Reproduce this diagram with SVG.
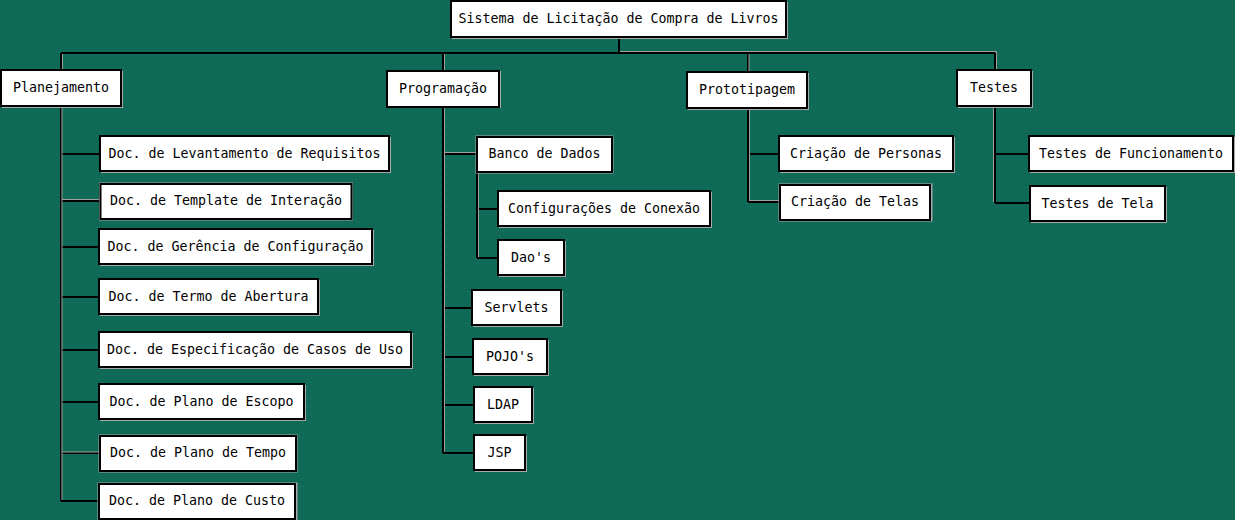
<svg xmlns="http://www.w3.org/2000/svg" width="1235" height="520" viewBox="0 0 1235 520">
<defs>
<pattern id="tex" width="8" height="8" patternUnits="userSpaceOnUse">
<rect width="8" height="8" fill="#0f6a57"/>
<rect x="1" y="5" width="1" height="1" fill="#0a5343" opacity="0.7"/>
<rect x="5" y="1" width="1" height="1" fill="#0a5343" opacity="0.7"/>
<rect x="3" y="3" width="1" height="1" fill="#228672" opacity="0.6"/>
<rect x="6" y="6" width="1" height="1" fill="#228672" opacity="0.6"/>
<rect x="2" y="0" width="1" height="2" fill="#0b5c4b" opacity="0.5"/>
<rect x="6" y="3" width="1" height="2" fill="#0b5c4b" opacity="0.5"/>
</pattern>
<style>
.box{fill:#ffffff;stroke:#000000;stroke-width:2}
.sh{fill:#a8a8a8}
.t{font-family:"DejaVu Sans Mono","Liberation Mono",monospace;font-size:13.3px;fill:#000000;text-anchor:middle}
.c{stroke:#000000;stroke-width:2;fill:none}
.h{stroke:#a0a0a0;stroke-width:1;fill:none}
</style>
</defs>
<rect width="1235" height="520" fill="url(#tex)"/>

<g id="connectors">
<path class="c" d="M619 37 V53 M61 53 H995 M61 53 V70 M443 53 V71 M748 53 V72 M995 53 V70"/>
<path class="h" d="M620 51.5 H996.5 V69 M62.5 54 V69 M444.5 54 V70 M749 54 V71"/>
<path class="c" d="M61 106 V501 M61 154 H100 M61 201 H100 M61 247 H99 M61 297 H99 M61 350 H99 M61 402 H99 M61 453 H99 M61 501 H99"/>
<path class="h" d="M62 199.5 H99 M62 452 H99 M62 107 V500"/>
<path class="c" d="M443 107 V453 M443 154 H476 M477 172 V258 M477 209 H498 M477 258 H498 M443 308 H472 M443 357 H473 M443 405 H474 M443 453 H474"/>
<path class="h" d="M444.5 152.5 H476 M478.5 173 V257 M444.5 108 V452"/>
<path class="c" d="M748 108 V202 M748 154 H779 M748 202 H779"/>
<path class="h" d="M749.5 109 V201 M749 200.5 H779"/>
<path class="c" d="M995 107 V203 M995 154 H1029 M995 203 H1030"/>
<path class="h" d="M993.5 108 V202"/>
</g>

<g id="root">
<rect class="sh" x="452" y="2" width="336" height="37"/>
<rect class="box" x="451" y="1" width="335" height="36"/>
<text class="t" x="618.5" y="23">Sistema de Licitação de Compra de Livros</text>
</g>

<g id="planejamento">
<rect class="sh" x="2" y="71" width="121" height="37"/>
<rect class="box" x="1" y="70" width="120" height="36"/>
<text class="t" x="61" y="92">Planejamento</text>
</g>
<g id="programacao">
<rect class="sh" x="388" y="71" width="113" height="37"/>
<rect class="box" x="387" y="71" width="112" height="36"/>
<text class="t" x="443" y="93">Programação</text>
</g>
<g id="prototipagem">
<rect class="sh" x="688" y="73" width="121" height="37"/>
<rect class="box" x="687" y="72" width="120" height="36"/>
<text class="t" x="747" y="94">Prototipagem</text>
</g>
<g id="testes">
<rect class="sh" x="958" y="71" width="75" height="37"/>
<rect class="box" x="957" y="70" width="74" height="36"/>
<text class="t" x="994" y="92">Testes</text>
</g>

<g id="doc-levantamento">
<rect class="sh" x="101" y="137" width="290" height="36"/>
<rect class="box" x="100" y="136" width="289" height="35"/>
<text class="t" x="244.5" y="158">Doc. de Levantamento de Requisitos</text>
</g>
<g id="doc-template">
<rect x="99" y="182.5" width="254" height="38" fill="#a8a8a8"/>
<rect class="box" x="100.5" y="184" width="251" height="35"/>
<text class="t" x="226" y="205">Doc. de Template de Interação</text>
</g>
<g id="doc-gerencia">
<rect class="sh" x="100" y="230" width="274" height="36"/>
<rect class="box" x="99" y="229" width="273" height="35"/>
<text class="t" x="235.5" y="251">Doc. de Gerência de Configuração</text>
</g>
<g id="doc-termo">
<rect class="sh" x="100" y="280" width="220" height="36"/>
<rect class="box" x="99" y="279" width="219" height="35"/>
<text class="t" x="208.5" y="301">Doc. de Termo de Abertura</text>
</g>
<g id="doc-especificacao">
<rect class="sh" x="100" y="333" width="313" height="36"/>
<rect class="box" x="99" y="332" width="312" height="35"/>
<text class="t" x="255" y="354">Doc. de Especificação de Casos de Uso</text>
</g>
<g id="doc-escopo">
<rect class="sh" x="100" y="385" width="206" height="36"/>
<rect class="box" x="99" y="384" width="205" height="35"/>
<text class="t" x="201.5" y="406">Doc. de Plano de Escopo</text>
</g>
<g id="doc-tempo">
<rect x="98.5" y="434.5" width="199" height="38" fill="#a8a8a8"/>
<rect class="box" x="100" y="436" width="196" height="35"/>
<text class="t" x="198" y="457">Doc. de Plano de Tempo</text>
</g>
<g id="doc-custo">
<rect x="97.5" y="482.5" width="200" height="38" fill="#a8a8a8"/>
<rect class="box" x="99" y="484" width="196" height="35"/>
<text class="t" x="197" y="505">Doc. de Plano de Custo</text>
</g>

<g id="banco-de-dados">
<rect x="475.5" y="135.5" width="138" height="38" fill="#a8a8a8"/>
<rect class="box" x="477" y="137" width="135" height="35"/>
<text class="t" x="544.5" y="158">Banco de Dados</text>
</g>
<g id="configuracoes-conexao">
<rect class="sh" x="499" y="192" width="213" height="36"/>
<rect class="box" x="498" y="191" width="212" height="35"/>
<text class="t" x="604" y="213">Configurações de Conexão</text>
</g>
<g id="daos">
<rect class="sh" x="499" y="241" width="67" height="36"/>
<rect class="box" x="498" y="240" width="66" height="35"/>
<text class="t" x="531" y="262">Dao's</text>
</g>
<g id="servlets">
<rect class="sh" x="473" y="291" width="90" height="36"/>
<rect class="box" x="472" y="290" width="89" height="35"/>
<text class="t" x="516.5" y="312">Servlets</text>
</g>
<g id="pojos">
<rect class="sh" x="474" y="340" width="75" height="36"/>
<rect class="box" x="473" y="339" width="74" height="35"/>
<text class="t" x="510" y="361">POJO's</text>
</g>
<g id="ldap">
<rect class="sh" x="475" y="388" width="59" height="36"/>
<rect class="box" x="474" y="387" width="58" height="35"/>
<text class="t" x="503" y="409">LDAP</text>
</g>
<g id="jsp">
<rect class="sh" x="475" y="436" width="52" height="36"/>
<rect class="box" x="474" y="435" width="51" height="35"/>
<text class="t" x="499.5" y="457">JSP</text>
</g>

<g id="criacao-personas">
<rect class="sh" x="780" y="137" width="175" height="36"/>
<rect class="box" x="779" y="136" width="174" height="35"/>
<text class="t" x="866" y="158">Criação de Personas</text>
</g>
<g id="criacao-telas">
<rect x="778.5" y="183.5" width="154" height="38" fill="#a8a8a8"/>
<rect class="box" x="780" y="185" width="150" height="35"/>
<text class="t" x="855" y="206">Criação de Telas</text>
</g>

<g id="testes-funcionamento">
<rect class="sh" x="1030" y="137" width="205" height="36"/>
<rect class="box" x="1029" y="136" width="204" height="35"/>
<text class="t" x="1131" y="158">Testes de Funcionamento</text>
</g>
<g id="testes-tela">
<rect class="sh" x="1031" y="187" width="136" height="36"/>
<rect class="box" x="1030" y="186" width="135" height="35"/>
<text class="t" x="1097.5" y="208">Testes de Tela</text>
</g>
</svg>
